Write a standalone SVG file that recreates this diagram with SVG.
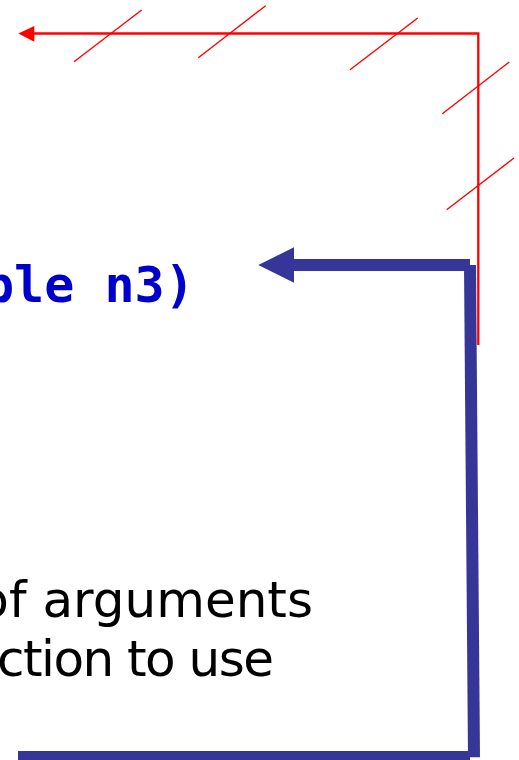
<svg xmlns="http://www.w3.org/2000/svg" width="519" height="760" viewBox="0 0 519 760">
<style>
.red{fill:none;stroke:#ff0000;stroke-width:2.3}
.tick{fill:none;stroke:#ff0000;stroke-width:1.4}
.blue{fill:none;stroke:#363699;stroke-width:12;stroke-linecap:butt}
.code{font-family:"DejaVu Sans Mono",monospace;font-weight:bold;font-size:50px;fill:#0000cc}
.note{font-family:"Comic Sans MS","DejaVu Sans",sans-serif;font-size:50px;fill:#000000}
</style>
<rect width="519" height="760" fill="#ffffff"/>
<g id="connectors">
  <g id="red-arrow">
    <path class="red" d="M478.3,345 V33.5 H33"/>
    <polygon points="18.3,33.5 34.3,26 34.3,41.7" fill="#ff0000"/>
    <line class="tick" x1="74" y1="61.7" x2="141.7" y2="10"/>
    <line class="tick" x1="198.3" y1="57.7" x2="265.7" y2="5.7"/>
    <line class="tick" x1="350" y1="69.7" x2="417.7" y2="18"/>
    <line class="tick" x1="442.3" y1="113.7" x2="509.3" y2="62"/>
    <line class="tick" x1="446.7" y1="209.7" x2="514" y2="158"/>
  </g>
  <g id="blue-arrow">
    <line class="blue" x1="293" y1="265" x2="470" y2="265"/>
    <line class="blue" x1="470" y1="265" x2="474" y2="757.3"/>
    <line class="blue" x1="18" y1="757" x2="470" y2="757"/>
    <polygon points="258.3,265 294,247.3 294,282.7" fill="#363699"/>
  </g>
</g>
<g id="code-label">
  <text class="code" x="-16" y="302">ple n3)</text>
</g>
<g id="note-label">
  <text class="note" x="313" y="617" text-anchor="end">of arguments</text>
  <text class="note" x="-3" y="676" textLength="277" lengthAdjust="spacing">ction to use</text>
</g>
</svg>
